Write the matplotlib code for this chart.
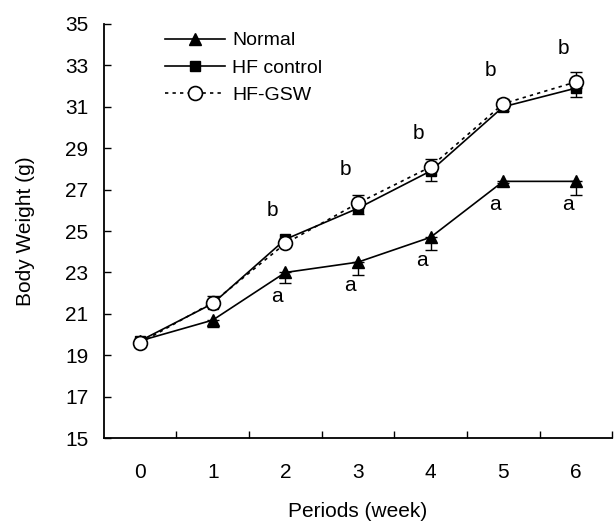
import matplotlib
matplotlib.use("Agg")
import matplotlib.pyplot as plt
from matplotlib.ticker import FixedLocator

plt.rcParams['font.family'] = ['Liberation Sans', 'DejaVu Sans']
plt.rcParams['font.size'] = 15

weeks = [0, 1, 2, 3, 4, 5, 6]

normal = [19.7, 20.7, 23.0, 23.5, 24.7, 27.4, 27.4]
normal_err = [0.15, 0.35, 0.5, 0.6, 0.6, 0.1, 0.65]

hf_control = [19.7, 21.5, 24.6, 26.1, 27.9, 31.0, 31.9]
hf_control_err = [0.15, 0.15, 0.15, 0.3, 0.5, 0.2, 0.45]

hf_gsw = [19.6, 21.55, 24.4, 26.35, 28.1, 31.15, 32.2]
hf_gsw_err = [0.1, 0.3, 0.1, 0.4, 0.4, 0.25, 0.5]

# significance letters, weeks 2..6
letter_weeks = [2, 3, 4, 5, 6]
letters_top = ['b', 'b', 'b', 'b', 'b']
letters_bottom = ['a', 'a', 'a', 'a', 'a']

fig = plt.figure(figsize=(6.14, 5.21), dpi=100)
ax = fig.add_axes([0.169, 0.159, 0.828, 0.795])

zeros = [0] * len(weeks)
err_kw = dict(fmt='none', ecolor='black', elinewidth=1.0, capsize=4, capthick=1.0)
ax.errorbar(weeks, normal, yerr=[normal_err, zeros], zorder=2, **err_kw)
ax.errorbar(weeks, hf_control, yerr=[hf_control_err, zeros], zorder=2, **err_kw)
ax.errorbar(weeks, hf_gsw, yerr=[zeros, hf_gsw_err], zorder=2, **err_kw)

l1, = ax.plot(weeks, normal, color='black', lw=1.2, marker='^', ms=8,
              mfc='black', mec='black', zorder=3, label='Normal')
l2, = ax.plot(weeks, hf_control, color='black', lw=1.2, marker='s', ms=7,
              mfc='black', mec='black', zorder=3, label='HF control')
l3, = ax.plot(weeks, hf_gsw, color='black', lw=1.2, ls=(0, (2, 2.5)), marker='o',
              ms=10, mfc='white', mec='black', mew=1.2, zorder=4, label='HF-GSW')

for i, w in enumerate(letter_weeks):
    k = weeks.index(w)
    ax.annotate(letters_top[i], (w, hf_gsw[k]), xytext=(-9, 24), textcoords='offset points',
                ha='center', va='center', fontsize=15)
    ax.annotate(letters_bottom[i], (w, normal[k]), xytext=(-6, -17), textcoords='offset points',
                ha='center', va='center', fontsize=15)

ax.set_xlim(-0.5, 6.5)
ax.set_ylim(15, 35)
ax.set_yticks(range(15, 36, 2))
ax.set_xticks(weeks)
ax.xaxis.set_minor_locator(FixedLocator([0.5, 1.5, 2.5, 3.5, 4.5, 5.5, 6.5]))
ax.tick_params(axis='x', which='major', length=0, pad=18, labelsize=15)
ax.tick_params(axis='x', which='minor', direction='in', length=5, width=1.0)
ax.tick_params(axis='y', direction='in', length=5, width=1.0, pad=11, labelsize=15)

for s in ['top', 'right']:
    ax.spines[s].set_visible(False)
for s in ['left', 'bottom']:
    ax.spines[s].set_linewidth(1.3)

ax.set_xlabel('Periods (week)', fontsize=15, labelpad=14)
ax.set_ylabel('Body Weight (g)', fontsize=15, labelpad=22)

ax.legend(handles=[l1, l2, l3], loc='upper left', bbox_to_anchor=(0.105, 1.0),
          frameon=False, handlelength=3.1, handletextpad=0.35, labelspacing=0.5,
          fontsize=14, borderaxespad=0)

fig.savefig('out.png', dpi=100)
